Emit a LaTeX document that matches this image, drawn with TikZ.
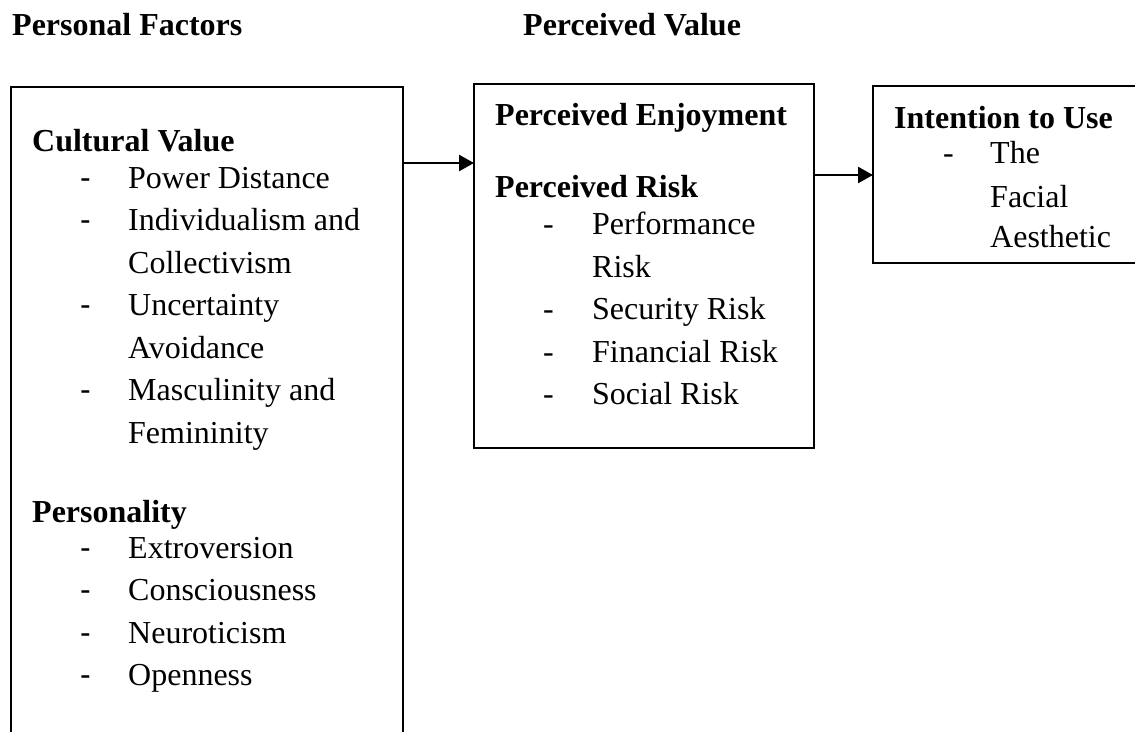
\documentclass[tikz,border=0pt]{standalone}
\usepackage{fontspec}
\setmainfont{Liberation Serif}
\newfontfamily\hyfont{Liberation Sans}
\usetikzlibrary{arrows.meta}

\begin{document}
\begin{tikzpicture}[x=1pt, y=-1pt,
  box/.style={draw, line width=2.8pt, anchor=north west, inner sep=0, outer sep=0},
  txt/.style={anchor=base west, inner sep=0, font=\fontsize{32}{40}\selectfont},
  head/.style={anchor=base west, inner sep=0, font=\fontsize{32}{40}\selectfont\bfseries},
  hyph/.style={anchor=base west, inner sep=0, font=\fontsize{32}{40}\selectfont},
  flow/.style={-{Triangle[length=15pt,width=16pt]}, line width=2.5pt}]
\useasboundingbox (0,0) rectangle (1135,731);
\clip (0,0) rectangle (1135,731);

% column titles
\node (pft) [head] at (12,35) {Personal Factors};
\node (pvt) [head] at (523,35) {Perceived Value};

% the three boxes (left one runs off the bottom, right one off the side)
\node (pf) [box, minimum width=392, minimum height=700] at (11,87) {};
\node (pv) [box, minimum width=340, minimum height=364] at (474,84) {};
\node (itu) [box, minimum width=300, minimum height=177] at (873,86) {};

% left box
\node (cv) [head] at (32,151) {Cultural Value};
\node (h1) [hyph] at (80,188) {\hyfont -};
\node (c1) [txt] at (128,188) {Power Distance};
\node (h2) [hyph] at (80,230) {\hyfont -};
\node (c2) [txt] at (128,230) {Individualism and};
\node (c2b) [txt] at (128,273) {Collectivism};
\node (h3) [hyph] at (80,315) {\hyfont -};
\node (c3) [txt] at (128,315) {Uncertainty};
\node (c3b) [txt] at (128,358) {Avoidance};
\node (h4) [hyph] at (80,400) {\hyfont -};
\node (c4) [txt] at (128,400) {Masculinity and};
\node (c4b) [txt] at (128,443) {Femininity};

\node (ps) [head] at (32,522) {Personality};
\node (h5) [hyph] at (80,558) {\hyfont -};
\node (p1) [txt] at (128,558) {Extroversion};
\node (h6) [hyph] at (80,600) {\hyfont -};
\node (p2) [txt] at (128,600) {Consciousness};
\node (h7) [hyph] at (80,643) {\hyfont -};
\node (p3) [txt] at (128,643) {Neuroticism};
\node (h8) [hyph] at (80,685) {\hyfont -};
\node (p4) [txt] at (128,685) {Openness};

% middle box
\node (pe) [head] at (495,125) {Perceived Enjoyment};
\node (pr) [head] at (495,197) {Perceived Risk};
\node (h9) [hyph] at (543,234) {-};
\node (r1) [txt] at (592,234) {Performance};
\node (r1b) [txt] at (592,277) {Risk};
\node (h10) [hyph] at (543,319) {-};
\node (r2) [txt] at (592,319) {Security Risk};
\node (h11) [hyph] at (543,362) {-};
\node (r3) [txt] at (592,362) {Financial Risk};
\node (h12) [hyph] at (543,404) {-};
\node (r4) [txt] at (592,404) {Social Risk};

% right box
\node (iu) [head] at (894,128) {Intention to Use};
\node (h13) [hyph] at (943,163) {-};
\node (u1) [txt] at (990,163) {The};
\node (u1b) [txt] at (990,207) {Facial};
\node (u1c) [txt] at (990,247) {Aesthetic};

% arrows
\coordinate (a1) at (0,163);
\coordinate (a2) at (0,175);
\draw [flow] (pf.east |- a1) -- (pv.west |- a1);
\draw [flow] (pv.east |- a2) -- (itu.west |- a2);
\end{tikzpicture}
\end{document}
